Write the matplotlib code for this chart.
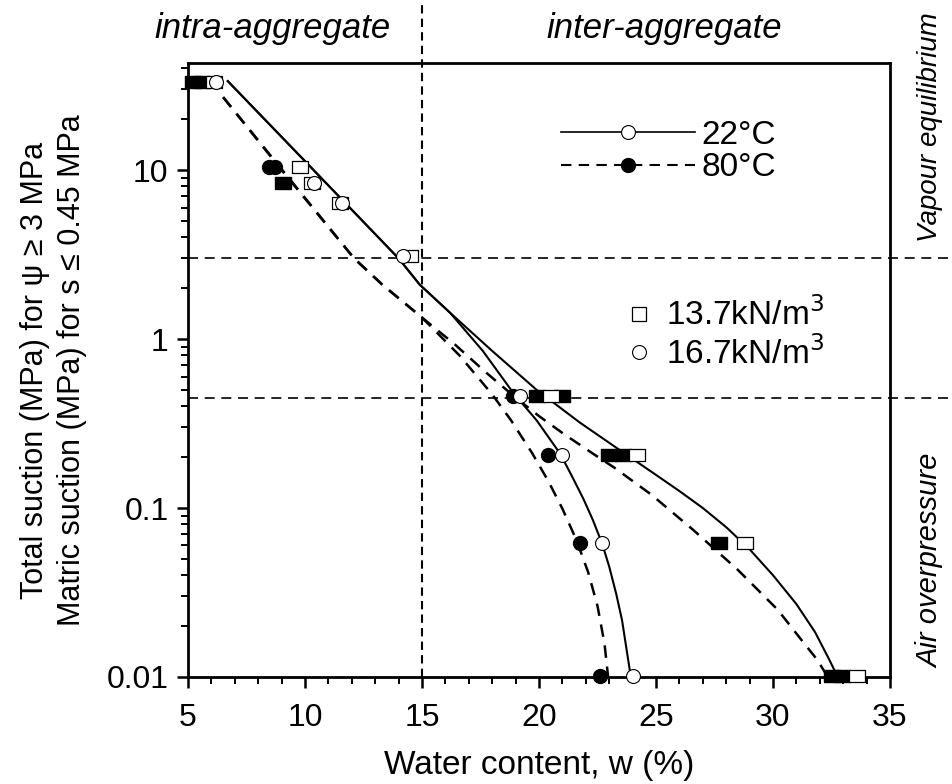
import matplotlib
matplotlib.use("Agg")
import matplotlib.pyplot as plt
from matplotlib.lines import Line2D
from matplotlib.ticker import FixedLocator, FixedFormatter, LogLocator, MultipleLocator, NullFormatter

plt.rcParams["font.family"] = ["Liberation Sans", "DejaVu Sans"]

# measured points: water content w (%) vs suction (MPa)
w_sq_open = [6.1, 9.8, 10.3, 11.5, 14.5, 20.5, 24.2, 28.8, 33.6]
s_sq_open = [33, 10.4, 8.4, 6.4, 3.1, 0.46, 0.205, 0.062, 0.0101]
w_sq_fill = [5.2, 5.6, 9.05, 19.9, 21.0, 23.0, 23.6, 27.7, 32.5, 32.95]
s_sq_fill = [33, 33, 8.4, 0.46, 0.46, 0.205, 0.205, 0.062, 0.0101, 0.0101]
w_ci_open = [6.2, 10.4, 11.6, 14.2, 19.2, 21.0, 22.7, 24.0]
s_ci_open = [33, 8.4, 6.4, 3.1, 0.46, 0.205, 0.062, 0.0101]
w_ci_fill = [8.45, 8.7, 18.9, 20.4, 21.75, 22.6]
s_ci_fill = [10.4, 10.4, 0.46, 0.205, 0.062, 0.0101]

# fitted curves
w_22_137 = [6.7, 10.0, 14.0, 14.9, 16.2, 18.0, 19.9, 21.75, 23.8, 25.0, 26.0, 27.0, 28.0, 29.0,
            30.0, 31.0, 31.8, 32.4, 32.75]
s_22_137 = [33.6, 11.3, 3.0, 2.1, 1.43, 0.85, 0.50, 0.32, 0.204, 0.157, 0.126, 0.100, 0.077, 0.057,
            0.040, 0.027, 0.0184, 0.0127, 0.0101]
w_22_167 = [6.7, 14.0, 14.9, 16.2, 17.6, 18.9, 19.9, 20.9, 21.4, 21.9, 22.3, 22.7, 23.0, 23.3, 23.55,
            23.8, 23.92]
s_22_167 = [33.6, 3.0, 2.1, 1.43, 0.85, 0.48, 0.33, 0.21, 0.155, 0.113, 0.085, 0.0614, 0.045, 0.031,
            0.0216, 0.0129, 0.0101]
w_80_137 = [6.5, 12.1, 13.3, 15.0, 16.4, 17.7, 19.0, 20.0, 21.0, 22.3, 23.2, 24.8, 26.6, 28.5, 30.2,
            31.3, 31.9, 32.3]
s_80_137 = [27, 3.0, 2.1, 1.34, 0.93, 0.64, 0.45, 0.35, 0.278, 0.21, 0.174, 0.12, 0.074, 0.043, 0.025,
            0.016, 0.0126, 0.0102]
w_80_167 = [6.5, 9.0, 12.1, 13.3, 15.0, 16.6, 18.0, 18.8, 19.7, 20.4, 21.0, 21.6, 22.1, 22.5, 22.8, 22.95]
s_80_167 = [27, 10.0, 3.0, 2.1, 1.34, 0.80, 0.47, 0.331, 0.212, 0.144, 0.099, 0.0646, 0.0417, 0.0263,
            0.0157, 0.0101]

y_ticks = [0.01, 0.1, 1, 10]
y_tick_labels = ["0.01", "0.1", "1", "10"]
x_ticks = [5, 10, 15, 20, 25, 30, 35]

fig = plt.figure(figsize=(9.53, 7.84), dpi=100)
ax = fig.add_axes([0.1973, 0.1365, 0.7366, 0.7831])
ax.set_yscale("log")
ax.set_xlim(5, 35)
ax.set_ylim(0.01, 43)

dash = (0, (5, 3.5))
ax.plot(w_22_137, s_22_137, color="k", lw=1.5, zorder=3)
ax.plot(w_22_167, s_22_167, color="k", lw=1.5, zorder=3)
ax.plot(w_80_137, s_80_137, color="k", lw=1.8, ls=dash, zorder=3)
ax.plot(w_80_167, s_80_167, color="k", lw=1.8, ls=dash, zorder=3)

rect = [(-1.25, -1), (1.25, -1), (1.25, 1), (-1.25, 1), (-1.25, -1)]
ax.plot(w_sq_fill, s_sq_fill, ls="none", marker=rect, ms=11, mfc="k", mec="k", clip_on=False, zorder=4)
ax.plot(w_sq_open, s_sq_open, ls="none", marker=rect, ms=11, mfc="white", mec="k", mew=0.9, clip_on=False, zorder=5)
ax.plot(w_ci_fill, s_ci_fill, ls="none", marker="o", ms=10, mfc="k", mec="k", clip_on=False, zorder=4)
ax.plot(w_ci_open, s_ci_open, ls="none", marker="o", ms=10, mfc="white", mec="k", mew=0.8, clip_on=False, zorder=5)

# region boundaries
ax.plot([15, 15], [0, 1.103], transform=ax.get_xaxis_transform(), color="k",
        lw=1.5, ls=(0, (4, 2.5)), clip_on=False, zorder=2)
for s_lim in [3, 0.45]:
    ax.plot([0, 1.09], [s_lim, s_lim], transform=ax.get_yaxis_transform(), color="k",
            lw=1.2, ls=(0, (6, 4)), clip_on=False, zorder=2)

# axes styling
for sp in ax.spines.values():
    sp.set_linewidth(2.0)
ax.xaxis.set_major_locator(FixedLocator(x_ticks))
ax.xaxis.set_minor_locator(MultipleLocator(1))
ax.yaxis.set_major_locator(FixedLocator(y_ticks))
ax.yaxis.set_major_formatter(FixedFormatter(y_tick_labels))
ax.yaxis.set_minor_locator(LogLocator(base=10, subs=range(2, 10)))
ax.yaxis.set_minor_formatter(NullFormatter())
ax.tick_params(which="major", direction="out", length=8, width=1.8, labelsize=23, pad=6)
ax.tick_params(axis="x", which="major", pad=11)
ax.tick_params(which="minor", direction="out", length=5, width=1.4)
ax.tick_params(top=False, right=False, which="both")

ax.set_xlabel("Water content, w (%)", fontsize=24, labelpad=12)
ax.set_ylabel("Total suction (MPa) for \u03c8 \u2265 3 MPa\nMatric suction (MPa) for s \u2264 0.45 MPa",
              fontsize=22, linespacing=1.3, labelpad=14)

ax.text(0.12, 1.057, "intra-aggregate", transform=ax.transAxes, fontsize=25, style="italic",
        ha="center", va="center")
ax.text(0.678, 1.057, "inter-aggregate", transform=ax.transAxes, fontsize=25, style="italic",
        ha="center", va="center")
ax.text(1.057, 0.895, "Vapour equilibrium", transform=ax.transAxes, fontsize=20, style="italic",
        rotation=90, ha="center", va="center")
ax.text(1.057, 0.19, "Air overpressure", transform=ax.transAxes, fontsize=21, style="italic",
        rotation=90, ha="center", va="center")

h_temp = [Line2D([], [], color="k", lw=1.2, marker="o", ms=10, mfc="white", mec="k", mew=0.8),
          Line2D([], [], color="k", lw=1.5, ls=dash, marker="o", ms=10, mfc="k", mec="k")]
leg1 = ax.legend(h_temp, ["22\u00b0C", "80\u00b0C"], loc="upper left", bbox_to_anchor=(0.508, 0.935),
                 frameon=False, fontsize=24, handlelength=4.0, handletextpad=0.2,
                 labelspacing=0.05, borderpad=0, numpoints=1)
ax.add_artist(leg1)

h_dens = [Line2D([], [], ls="none", marker="s", ms=10, mfc="white", mec="k", mew=0.9),
          Line2D([], [], ls="none", marker="o", ms=10, mfc="white", mec="k", mew=0.8)]
ax.legend(h_dens, ["13.7kN/m$^3$", "16.7kN/m$^3$"], loc="upper left", bbox_to_anchor=(0.60, 0.645),
          frameon=False, fontsize=24, handlelength=0.8, handletextpad=0.4,
          labelspacing=0.1, borderpad=0)

fig.savefig("out.png", dpi=100)
